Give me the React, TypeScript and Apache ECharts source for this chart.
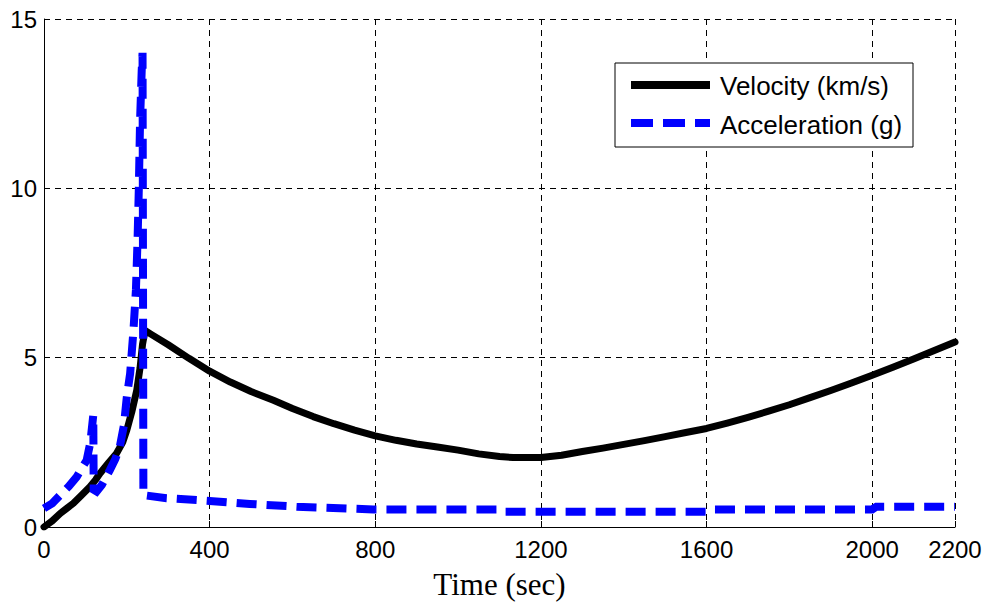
import React, { useEffect, useRef } from "react";
import * as echarts from "echarts";

// Velocity (km/s): [time (sec), value]
const velocityTime = [0, 20, 39, 55, 71, 90, 111, 125, 135, 155, 175, 190, 200, 212, 224, 232, 238, 244, 260, 300, 350, 400, 450, 500, 554, 600, 650, 700, 750, 800, 850, 900, 950, 1000, 1050, 1100, 1133, 1200, 1250, 1300, 1350, 1400, 1450, 1500, 1550, 1600, 1650, 1700, 1750, 1800, 1850, 1900, 1950, 2000, 2050, 2100, 2150, 2200];
const velocityValue = [0, 0.18, 0.4, 0.55, 0.7, 0.93, 1.19, 1.4, 1.58, 1.88, 2.17, 2.5, 2.86, 3.4, 4.04, 4.7, 5.4, 5.8, 5.68, 5.38, 4.98, 4.6, 4.28, 4.0, 3.74, 3.5, 3.26, 3.05, 2.86, 2.69, 2.56, 2.45, 2.36, 2.27, 2.16, 2.08, 2.05, 2.05, 2.12, 2.23, 2.33, 2.44, 2.55, 2.67, 2.79, 2.91, 3.07, 3.24, 3.42, 3.61, 3.82, 4.03, 4.25, 4.48, 4.72, 4.96, 5.21, 5.46];

// Acceleration (g): [time (sec), value]
const accelTime = [0, 20, 39, 60, 79, 92, 103, 112, 119, 120, 127, 140, 159, 172, 183, 193, 200, 208, 216, 222, 226, 229, 232, 236, 238, 239, 240, 296, 400, 497, 610, 795, 1093, 1100, 1600, 1610, 2000, 2010, 2200];
const accelValue = [0.55, 0.7, 0.94, 1.2, 1.48, 1.75, 1.97, 2.5, 3.3, 1.1, 1.05, 1.25, 1.68, 2.0, 2.37, 3.0, 3.84, 4.53, 5.8, 7.0, 8.5, 10.0, 12.0, 13.5, 14.0, 8.0, 0.94, 0.85, 0.77, 0.68, 0.6, 0.52, 0.52, 0.45, 0.45, 0.52, 0.52, 0.6, 0.6];

const seriesNames = ["Velocity (km/s)", "Acceleration (g)"];
const xAxisTitle = "Time (sec)";

const SANS = "'Liberation Sans', Arial, Helvetica, sans-serif";
const SERIF = "'Liberation Serif', 'Times New Roman', serif";

export default function App() {
  const ref = useRef<HTMLDivElement>(null);

  useEffect(() => {
    if (!ref.current) return;
    const chart = echarts.init(ref.current, null, { renderer: "svg" });
    const vel = velocityTime.map((t, i) => [t, velocityValue[i]]);
    const acc = accelTime.map((t, i) => [t, accelValue[i]]);

    const legendLeft = 615;
    const legendTop = 63;

    chart.setOption({
      animation: false,
      backgroundColor: "#ffffff",
      grid: {
        left: 44,
        right: 34,
        top: 19,
        bottom: 81,
        containLabel: false,
        outerBoundsMode: "none",
      },
      xAxis: {
        type: "value",
        min: 0,
        max: 2200,
        interval: 400,
        name: xAxisTitle,
        nameLocation: "middle",
        nameGap: 42,
        nameTextStyle: { fontFamily: SERIF, fontSize: 31, color: "#000" },
        axisLine: { show: true, onZero: false, lineStyle: { color: "#000", width: 1 } },
        axisTick: { show: true, inside: true, length: 6, lineStyle: { color: "#000" } },
        axisLabel: {
          fontFamily: SANS,
          fontSize: 24,
          color: "#000",
          margin: 10,
          showMaxLabel: true,
          showMinLabel: true,
          formatter: (v: number) => String(v),
        },
        splitLine: { show: true, lineStyle: { color: "#000", width: 1, type: [6, 5] } },
      },
      yAxis: {
        type: "value",
        min: 0,
        max: 15,
        interval: 5,
        axisLine: { show: true, onZero: false, lineStyle: { color: "#000", width: 1 } },
        axisTick: { show: true, inside: true, length: 6, lineStyle: { color: "#000" } },
        axisLabel: { fontFamily: SANS, fontSize: 24, color: "#000", margin: 7, formatter: (v: number) => String(v) },
        splitLine: { show: true, lineStyle: { color: "#000", width: 1, type: [6, 5] } },
      },
      series: [
        {
          name: seriesNames[0],
          type: "line",
          data: vel,
          showSymbol: false,
          symbol: "none",
          lineStyle: { color: "#000000", width: 7, cap: "round", join: "round" },
          z: 2,
        },
        {
          name: seriesNames[1],
          type: "line",
          data: acc,
          showSymbol: false,
          symbol: "none",
          lineStyle: { color: "#0000ff", width: 8, type: [20, 10], cap: "butt", join: "miter" },
          z: 3,
        },
      ],
      graphic: [
        {
          type: "rect",
          shape: { x: legendLeft, y: legendTop, width: 298, height: 84 },
          style: { fill: "#ffffff", stroke: "#000", lineWidth: 1 },
          z: 10,
        },
        {
          type: "line",
          shape: { x1: 631, y1: 85, x2: 710, y2: 85 },
          style: { stroke: "#000", lineWidth: 8 },
          z: 11,
        },
        {
          type: "text",
          x: 720,
          y: 86,
          style: { text: seriesNames[0], fontFamily: SANS, fontSize: 26, fill: "#000", verticalAlign: "middle", align: "left" },
          z: 11,
        },
        {
          type: "line",
          shape: { x1: 631, y1: 123, x2: 710, y2: 123 },
          style: { stroke: "#0000ff", lineWidth: 8, lineDash: [22, 10] },
          z: 11,
        },
        {
          type: "text",
          x: 720,
          y: 125,
          style: { text: seriesNames[1], fontFamily: SANS, fontSize: 26, fill: "#000", verticalAlign: "middle", align: "left" },
          z: 11,
        },
      ],
    });

    return () => chart.dispose();
  }, []);

  return (
    <div
      ref={ref}
      style={{ position: "fixed", left: 0, top: 0, width: 989, height: 608, background: "#fff" }}
    />
  );
}
